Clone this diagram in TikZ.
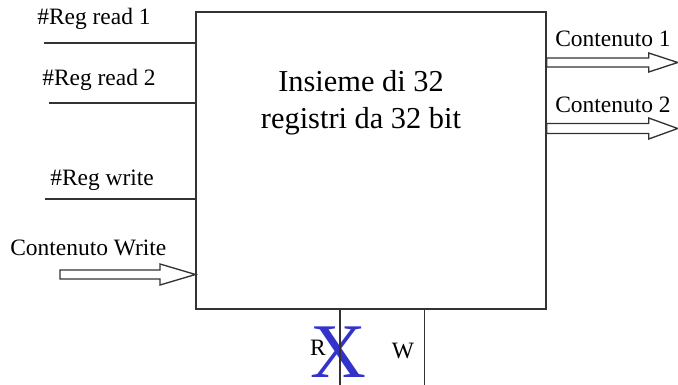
\documentclass[tikz,border=0pt]{standalone}
\usepackage{fontspec}
\setmainfont{Liberation Serif}
\definecolor{xblue}{RGB}{51,51,204}
\begin{document}
\begin{tikzpicture}
          [x=0.75pt,y=-0.75pt,
          regbox/.style={shape=rectangle,draw=black!80,line width=1.1pt,minimum width=262.5pt,minimum height=222.75pt,inner sep=0pt},
          lab/.style={anchor=base west,inner sep=0pt,font=\fontsize{17.6}{20}\selectfont},
          wire/.style={draw=black!80,line width=1.1pt},
          hollow/.style={draw=black!80,line width=1pt,fill=white,line join=miter}]

            \useasboundingbox (0,0) rectangle (678,385);

            \node (regs) [regbox] at (371,160.5) {};
            \node (title) [align=center,inner sep=0pt,font=\fontsize{22.8}{27.75}\selectfont] at (361,103) {Insieme di 32\\registri da 32 bit};

            % inputs on the left
            \coordinate (rr1) at (44,43);
            \coordinate (rr2) at (49,103);
            \coordinate (rw) at (45,199);
            \coordinate (cw) at (60,274.5);
            \node (lrr1) [lab] at (37,25) {\#Reg read 1};
            \node (lrr2) [lab] at (42,85) {\#Reg read 2};
            \node (lrw) [lab] at (50,185) {\#Reg write};
            \node (lcw) [lab] at (10,255) {Contenuto Write};
          \draw [wire] (rr1) -- (rr1 -| regs.west);
          \draw [wire] (rr2) -- (rr2 -| regs.west);
          \draw [wire] (rw) -- (rw -| regs.west);
          \draw [hollow] (cw) ++(0,-4.5) -- ++(100,0) -- ++(0,-6) -- ++(35.5,10.5) -- ++(-35.5,10.5) -- ++(0,-6) -- ++(-100,0) -- cycle;

            % outputs on the right
            \coordinate (c1) at (regs.east |- 0,62.5);
            \coordinate (c2) at (regs.east |- 0,128.5);
            \node (lc1) [lab] at (555,47) {Contenuto 1};
            \node (lc2) [lab] at (555,113) {Contenuto 2};
          \draw [hollow] (c1) ++(0,-4.5) -- ++(102,0) -- ++(0,-5) -- ++(29,9.5) -- ++(-29,9.5) -- ++(0,-5) -- ++(-102,0) -- cycle;
          \draw [hollow] (c2) ++(0,-5) -- ++(102,0) -- ++(0,-5.5) -- ++(29,10.5) -- ++(-29,10.5) -- ++(0,-5.5) -- ++(-102,0) -- cycle;

            % read / write ports below
            \coordinate (rport) at (340,385);
            \coordinate (wport) at (424.5,385);
            \node (r) [anchor=base,inner sep=0pt,font=\fontsize{17.6}{20}\selectfont] at (318,355) {R};
            \node (w) [anchor=base,inner sep=0pt,font=\fontsize{17.6}{20}\selectfont] at (403,358) {W};
            \node (x) [anchor=base,inner sep=0pt,text=xblue,font=\fontsize{58}{60}\selectfont] at (338.5,377) {X};
          \draw [wire] (regs.south -| rport) -- (rport);
          \draw [wire] (regs.south -| wport) -- (wport);

        \end{tikzpicture}
\end{document}
